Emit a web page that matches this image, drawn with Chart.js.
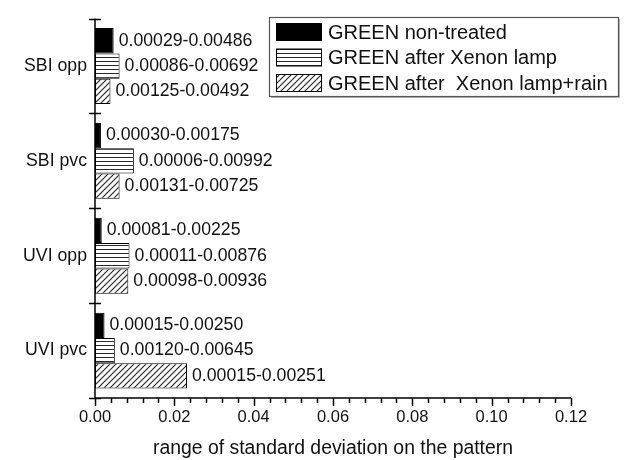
<!DOCTYPE html>
<html>
<head>
<meta charset="utf-8">
<script src="https://cdn.jsdelivr.net/npm/chart.js@4/dist/chart.umd.min.js"></script>
<style>
  html, body { margin: 0; padding: 0; background: #fff; }
  #wrap { width: 636px; height: 460px; position: relative; }
</style>
</head>
<body>
<div id="wrap"><canvas id="c" width="636" height="460"></canvas></div>
<script>
// ---- data ----
const categories = ['SBI opp', 'SBI pvc', 'UVI opp', 'UVI pvc'];
const seriesNames = ['GREEN non-treated', 'GREEN after Xenon lamp', 'GREEN after  Xenon lamp+rain'];
const nonTreated = [0.0047, 0.0015, 0.0017, 0.0024];
const xenonLamp = [0.0062, 0.0098, 0.0087, 0.0050];
const xenonRain = [0.0039, 0.0062, 0.0084, 0.0232];
const nonTreatedRanges = ['0.00029-0.00486', '0.00030-0.00175', '0.00081-0.00225', '0.00015-0.00250'];
const xenonLampRanges = ['0.00086-0.00692', '0.00006-0.00992', '0.00011-0.00876', '0.00120-0.00645'];
const xenonRainRanges = ['0.00125-0.00492', '0.00131-0.00725', '0.00098-0.00936', '0.00015-0.00251'];
const xTickValues = [0, 0.02, 0.04, 0.06, 0.08, 0.10, 0.12];
const xAxisTitle = 'range of standard deviation on the pattern';

const FONT = '"Liberation Sans", Arial, Helvetica, sans-serif';
const TEXT = '#111';

// ---- patterns ----
function stripePattern() {
  const c = document.createElement('canvas');
  c.width = 4; c.height = 4;
  const g = c.getContext('2d');
  g.fillStyle = '#fff'; g.fillRect(0, 0, 4, 4);
  g.fillStyle = '#2a2a2a'; g.fillRect(0, 1, 4, 1);
  return g.createPattern(c, 'repeat');
}
function hatchPattern() {
  const s = 6;
  const c = document.createElement('canvas');
  c.width = s; c.height = s;
  const g = c.getContext('2d');
  g.fillStyle = '#fff'; g.fillRect(0, 0, s, s);
  g.strokeStyle = '#222'; g.lineWidth = 1.1;
  g.beginPath();
  g.moveTo(0, s); g.lineTo(s, 0);
  g.moveTo(-1, 1); g.lineTo(1, -1);
  g.moveTo(s - 1, s + 1); g.lineTo(s + 1, s - 1);
  g.stroke();
  return g.createPattern(c, 'repeat');
}

const fills = ['#000', stripePattern(), hatchPattern()];
const allValues = [nonTreated, xenonLamp, xenonRain];
const allRanges = [nonTreatedRanges, xenonLampRanges, xenonRainRanges];

const valueLabels = {
  id: 'valueLabels',
  afterDatasetsDraw(chart) {
    const ctx = chart.ctx;
    ctx.save();
    ctx.font = '17.7px ' + FONT;
    ctx.fillStyle = TEXT;
    ctx.textAlign = 'left';
    ctx.textBaseline = 'middle';
    chart.data.datasets.forEach((ds, di) => {
      const meta = chart.getDatasetMeta(di);
      meta.data.forEach((el, i) => {
        ctx.fillText(allRanges[di][i], el.x + 5, el.y);
      });
    });
    ctx.restore();
  }
};

const axisTicks = {
  id: 'axisTicks',
  afterDraw(chart) {
    const ctx = chart.ctx;
    const xs = chart.scales.x, ys = chart.scales.y;
    const area = chart.chartArea;
    ctx.save();
    ctx.strokeStyle = '#000';
    ctx.lineWidth = 1.5;
    ctx.beginPath();
    for (let k = 0; k <= 30; k++) {
      const v = k * 0.004;
      const px = Math.round(xs.getPixelForValue(v)) + 0.5;
      const len = (k % 5 === 0) ? 8 : 5;
      ctx.moveTo(px, area.bottom);
      ctx.lineTo(px, area.bottom + len);
    }
    const n = categories.length;
    const half = (ys.getPixelForValue(1) - ys.getPixelForValue(0)) / 2;
    for (let i = 0; i <= n; i++) {
      const py = Math.round(ys.getPixelForValue(i) - half) + 0.5;
      ctx.moveTo(area.left - 6, py);
      ctx.lineTo(area.left + 6, py);
    }
    ctx.moveTo(area.left, area.top);
    ctx.lineTo(area.left, area.bottom);
    ctx.moveTo(area.left, area.bottom);
    ctx.lineTo(area.right, area.bottom);
    ctx.stroke();
    ctx.restore();
  }
};

const boxLegend = {
  id: 'boxLegend',
  afterDraw(chart) {
    const ctx = chart.ctx;
    const bx = 269, by = 17, bw = 349, bh = 79;
    ctx.save();
    ctx.fillStyle = '#bbb';
    ctx.fillRect(bx + 2, by + 2, bw, bh);
    ctx.fillStyle = '#fff';
    ctx.fillRect(bx, by, bw, bh);
    ctx.strokeStyle = '#555';
    ctx.lineWidth = 1.2;
    ctx.strokeRect(bx + 0.5, by + 0.5, bw, bh);
    ctx.font = '20px ' + FONT;
    ctx.textAlign = 'left';
    ctx.textBaseline = 'middle';
    chart.data.datasets.forEach((ds, i) => {
      const cy = 32 + i * 25.5;
      ctx.fillStyle = ds.backgroundColor;
      ctx.fillRect(276, cy - 9, 45, 18);
      ctx.strokeStyle = '#000';
      ctx.lineWidth = 1;
      ctx.strokeRect(276.5, cy - 8.5, 45, 17);
      ctx.fillStyle = TEXT;
      ctx.fillText(ds.label, 328, cy + 1);
    });
    ctx.restore();
  }
};

new Chart(document.getElementById('c'), {
  type: 'bar',
  data: {
    labels: categories,
    datasets: seriesNames.map((name, i) => ({
      label: name,
      data: allValues[i],
      backgroundColor: fills[i],
      borderColor: '#000',
      borderWidth: 1,
      borderSkipped: false,
      categoryPercentage: 0.8,
      barPercentage: 1.0
    }))
  },
  options: {
    indexAxis: 'y',
    responsive: false,
    animation: false,
    devicePixelRatio: 1,
    layout: { padding: { left: 0, right: 65, top: 11, bottom: 0 } },
    plugins: { legend: { display: false }, tooltip: { enabled: false } },
    scales: {
      x: {
        type: 'linear',
        min: 0, max: 0.12,
        afterBuildTicks(scale) { scale.ticks = xTickValues.map(v => ({ value: v })); },
        afterFit(scale) { scale.height = 62; },
        grid: { display: false, drawTicks: false },
        border: { display: false },
        ticks: {
          autoSkip: false,
          maxRotation: 0,
          padding: 10,
          color: TEXT,
          font: { family: FONT, size: 16.5 },
          callback: v => Number(v).toFixed(2)
        },
        title: {
          display: true,
          text: xAxisTitle,
          color: TEXT,
          padding: { top: 0, bottom: 0 },
          font: { family: FONT, size: 19.4 }
        }
      },
      y: {
        type: 'category',
        afterFit(scale) { scale.width = 95; },
        grid: { display: false, drawTicks: false },
        border: { display: false },
        ticks: {
          padding: 8,
          color: TEXT,
          font: { family: FONT, size: 17.7 }
        }
      }
    }
  },
  plugins: [valueLabels, axisTicks, boxLegend]
});
</script>
</body>
</html>
